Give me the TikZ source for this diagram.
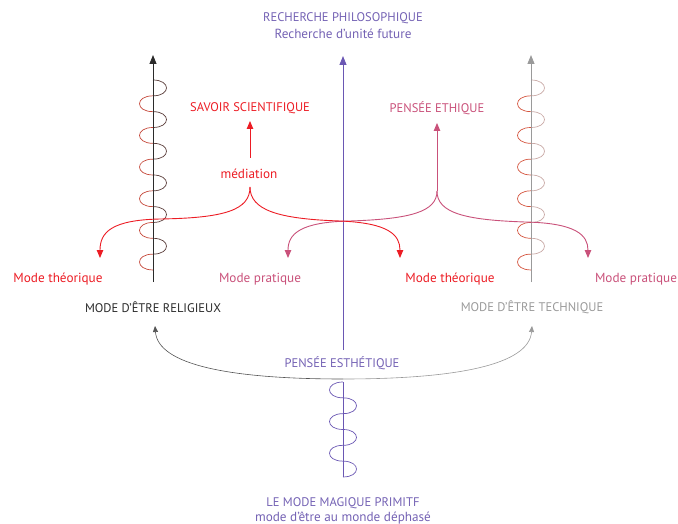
\documentclass[tikz,border=0pt]{standalone}
\usepackage{fontspec}
\setmainfont{PT Sans}
\usetikzlibrary{arrows.meta}
\definecolor{redc}{HTML}{EC1C24}
\definecolor{pinkc}{HTML}{C9517A}
\definecolor{purplec}{HTML}{6A57B3}
\definecolor{purpletext}{HTML}{7462B4}
\definecolor{darkc}{HTML}{2B2B2B}
\definecolor{greyc}{HTML}{9A9A9A}
\definecolor{waveredL}{HTML}{C5483A}
\definecolor{wavedarkL}{HTML}{5A3D3A}
\definecolor{waveredR}{HTML}{D4553F}
\definecolor{wavelightR}{HTML}{C9A9A6}
\tikzset{
  caps/.style={inner sep=0pt, font=\fontsize{12.5}{14.5}\selectfont},
  lower/.style={inner sep=0pt, font=\fontsize{13.2}{15}\selectfont},
  vtip/.style={-{Triangle[width=7pt,length=9pt]}},
  stip/.style={-{Triangle[width=6.5pt,length=8pt]}},
  ttip/.style={-{Triangle[width=5pt,length=6pt]}},
  branch/.style={line width=0.9pt, stip},
}
% a vertical coil: #1 = x of the axis, #2 = top y, #3 = number of half loops,
% #4 = half-loop height, #5 = first bulge side (+1 right, -1 left), #6/#7 colours of right/left bulges
\newcommand{\coil}[7]{%
  \foreach \i in {0,...,\numexpr#3-1\relax}{%
    \pgfmathsetmacro{\side}{#5*(1-2*mod(\i,2))}%
    \pgfmathsetmacro{\ya}{#2+\i*#4}%
    \pgfmathsetmacro{\yb}{#2+(\i+1)*#4}%
    \ifdim\side pt>0pt \def\cc{#6}\else\def\cc{#7}\fi
    \draw[color=\cc, line width=0.7pt] (#1,\ya) .. controls (#1+\side*18,\ya) and (#1+\side*18,\yb) .. (#1,\yb);
  }%
}
\begin{document}
\begin{tikzpicture}[x=1pt,y=-1pt]
\useasboundingbox (0,0) rectangle (678,524);

% labels
\node[caps, text=purpletext] (philo) at (343,18) {RECHERCHE PHILOSOPHIQUE};
\node[lower, text=purpletext] (philo2) at (343,34) {Recherche d’unité future};
\node[caps, text=redc] (savoir) at (250,108) {SAVOIR SCIENTIFIQUE};
\node[caps, text=pinkc] (ethique) at (437,108) {PENSÉE ETHIQUE};
\node[lower, text=redc] (mediation) at (249,174) {médiation};
\node[lower, text=redc] (theoL) at (58,279) {Mode théorique};
\node[lower, text=pinkc] (pratL) at (260,279) {Mode pratique};
\node[lower, text=redc] (theoR) at (450,279) {Mode théorique};
\node[lower, text=pinkc] (pratR) at (636,279) {Mode pratique};
\node[caps, text=darkc] (relig) at (153,307) {MODE D’ÊTRE RELIGIEUX};
\node[caps, text=greyc] (techn) at (532,307) {MODE D’ÊTRE TECHNIQUE};
\node[caps, text=purpletext] (esthe) at (342,363) {PENSÉE ESTHÉTIQUE};
\node[caps, text=purpletext] (magique) at (343,503) {LE MODE MAGIQUE PRIMITF};
\node[lower, text=purpletext] (magique2) at (343,518) {mode d’être au monde déphasé};

% axes end points
\coordinate (rBot) at (153,282);
\coordinate (rTop) at (153,55);
\coordinate (tBot) at (531,282);
\coordinate (tTop) at (531,55);
\coordinate (pBot) at (343,350);
\coordinate (pTop) at (343,56);
\coordinate (mTop) at (343,382);
\coordinate (mBot) at (343,477);

% coils
\coil{153}{80}{12}{15.83}{1}{wavedarkL}{waveredL}
\coil{531}{80}{12}{15.83}{1}{wavelightR}{waveredR}
\coil{343}{382}{6}{15.83}{-1}{purplec}{purplec}

% axes
\draw[darkc, line width=0.9pt, vtip] (rBot) -- (rTop);
\draw[greyc, line width=0.9pt, vtip] (tBot) -- (tTop);
\draw[purplec, line width=0.9pt, vtip] (pBot) -- (pTop);
\draw[purplec, line width=0.9pt] (mTop) -- (mBot);

% branch points and arrow ends
\coordinate (medTip) at (250,187);
\coordinate (ethTip) at (437,191);
\coordinate (medUp) at (250,158);
\coordinate (savDown) at (250,121);
\coordinate (ethUp) at (437,123);
\coordinate (theoLend) at (100,258);
\coordinate (pratLend) at (288,258);
\coordinate (theoRend) at (400,258);
\coordinate (pratRend) at (588,258);

% ethical branches
\draw[pinkc, branch] (ethTip) -- (ethUp);
\draw[pinkc, branch] (ethTip)
  .. controls (437,212) and (410,219) .. (350,221)
  .. controls (300,222) and (288,234) .. (pratLend);
\draw[pinkc, branch] (ethTip)
  .. controls (437,213) and (465,220) .. (525,222)
  .. controls (576,223) and (588,235) .. (pratRend);

% scientific branches
\draw[redc, branch] (medUp) -- (savDown);
\draw[redc, branch] (medTip)
  .. controls (250,210) and (225,218) .. (160,219)
  .. controls (112,220) and (100,232) .. (theoLend);
\draw[redc, branch] (medTip)
  .. controls (250,210) and (278,219) .. (340,221)
  .. controls (389,223) and (400,235) .. (theoRend);

% aesthetic arc back to both modes
\coordinate (arcL) at (155,326);
\coordinate (arcR) at (532,326);
\coordinate (arcM) at (343,379);
\draw[darkc!80, line width=0.6pt, ttip] (arcM)
  .. controls (230,379) and (158,365) .. (arcL);
\draw[greyc, line width=0.6pt, ttip] (arcM)
  .. controls (456,379) and (529,365) .. (arcR);
\end{tikzpicture}
\end{document}
